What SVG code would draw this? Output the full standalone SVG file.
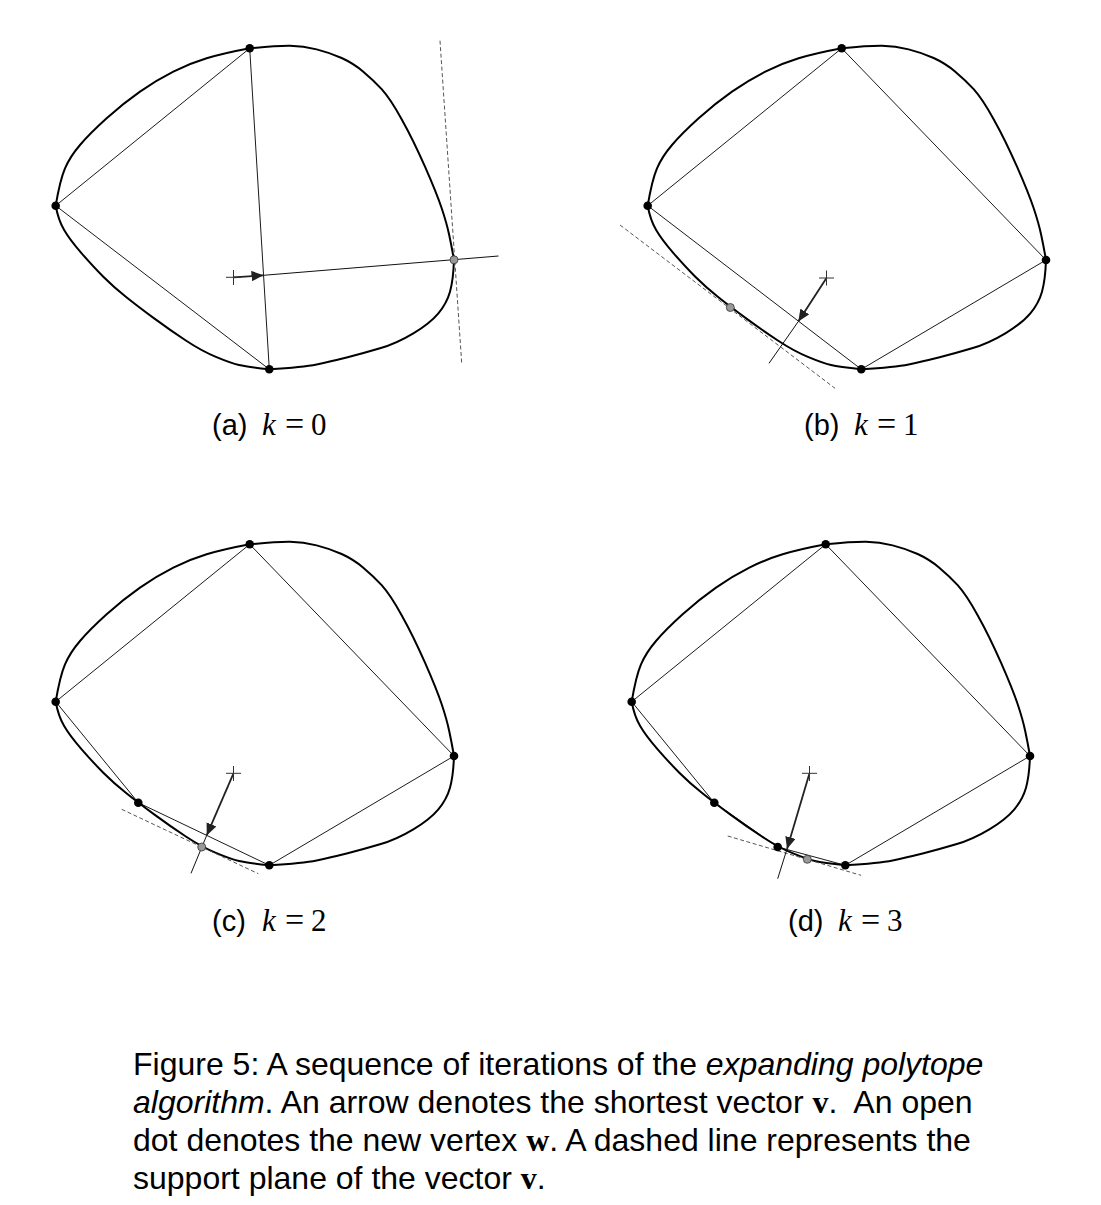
<svg xmlns="http://www.w3.org/2000/svg" width="1101" height="1205" viewBox="0 0 1101 1205">
<style>
.curve{fill:none;stroke:#000;stroke-width:2;stroke-linejoin:round}
.edge{stroke:#000;stroke-width:0.9;fill:none}
.dash{stroke:#555;stroke-width:1;stroke-dasharray:4 2.5;fill:none}
.cross{stroke:#333;stroke-width:1}
.vec{stroke:#222;stroke-width:1.8;fill:none}
.nrm{stroke:#111;stroke-width:1;fill:none}
.dot{fill:#000}
.wdot{fill:#999;stroke:#333;stroke-width:0.8}
.sans{font-family:"Liberation Sans",Arial,sans-serif}
.lab{font-size:29px}
.mi{font-family:"Liberation Serif","Times New Roman",serif;font-style:italic;font-size:31px}
.mr{font-family:"Liberation Serif","Times New Roman",serif;font-size:31px}
.eq{font-family:"Liberation Serif","Times New Roman",serif;font-size:34px}
.cap{font-family:"Liberation Sans",Arial,sans-serif;font-size:32px;fill:#000}
.it{font-style:italic}
.bv{font-family:"Liberation Serif","Times New Roman",serif;font-weight:bold}
</style>
<defs>
<marker id="ah" markerUnits="userSpaceOnUse" markerWidth="13" markerHeight="11" refX="12" refY="5.25" orient="auto">
<path d="M0,0 L12,5.25 L0,10.5 Z" fill="#222"/>
</marker>
<path id="blob" d="M249.7,48.3 Q276.7,45.7 290,45.85 Q303.3,46 316.65,49.35 Q330,52.7 341.65,58 Q353.3,63.3 363.3,71.65 Q373.3,80 381.65,89.15 Q390,98.3 401.65,119.15 Q413.3,140 425,166.65 Q436.7,193.3 441.7,208.3 Q446.7,223.3 449.2,235 Q451.7,246.7 454,260 Q453.3,280 450,291.65 Q446.7,303.3 438.35,313.3 Q430,323.3 413.35,333.3 Q396.7,343.3 380,348.3 Q363.3,353.3 346.65,357.5 Q330,361.7 316.65,364.5 Q303.3,367.3 269.3,369.3 Q246.7,366.7 239,365 Q231.3,363.3 216.5,357.15 Q201.7,351 185.85,340.5 Q170,330 154.15,318.35 Q138.3,306.7 125.8,296.7 Q113.3,286.7 103.3,276.7 Q93.3,266.7 81.65,253.35 Q70,240 64.15,230 Q58.3,220 55.7,205.7 Q60,180 65,168.35 Q70,156.7 80,145 Q90,133.3 106.65,118.3 Q123.3,103.3 140,91.65 Q156.7,80 173.35,71.65 Q190,63.3 206.65,58.3 Q223.3,53.3 249.7,48.3 Z"/>
</defs>
<rect width="1101" height="1205" fill="#fff"/>

<g id="panel-a">
<use href="#blob" class="curve"/>
<g id="a-edges">
<line class="edge" x1="249.7" y1="48.3" x2="55.7" y2="205.7"/>
<line class="edge" x1="55.7" y1="205.7" x2="269.3" y2="369.3"/>
<line class="edge" x1="249.7" y1="48.3" x2="269.3" y2="369.3"/>
</g>
<line class="dash" x1="440" y1="40.7" x2="461.7" y2="363.3"/>
<line class="nrm" x1="263.5" y1="275.3" x2="498.5" y2="256"/>
<line class="vec" x1="233.5" y1="277.3" x2="263.5" y2="275.3" marker-end="url(#ah)"/>
<line class="cross" x1="226" y1="277.3" x2="241" y2="277.3"/>
<line class="cross" x1="233.5" y1="270" x2="233.5" y2="285"/>
<circle class="dot" cx="249.7" cy="48.3" r="4.3"/>
<circle class="dot" cx="55.7" cy="205.7" r="4.3"/>
<circle class="dot" cx="269.3" cy="369.3" r="4.3"/>
<circle class="wdot" cx="454" cy="259.8" r="4"/>
<text y="435"><tspan x="212" class="sans lab">(a)</tspan><tspan x="262" class="mi">k</tspan><tspan x="285" class="eq">=</tspan><tspan x="311" class="mr">0</tspan></text>
</g>

<g id="panel-b">
<use href="#blob" class="curve" transform="translate(592,0)"/>
<g id="b-edges">
<line class="edge" x1="841.7" y1="48.3" x2="647.7" y2="205.7"/>
<line class="edge" x1="647.7" y1="205.7" x2="861.3" y2="369.3"/>
<line class="edge" x1="841.7" y1="48.3" x2="1046" y2="260"/>
<line class="edge" x1="1046" y1="260" x2="861.3" y2="369.3"/>
</g>
<line class="dash" x1="620" y1="225" x2="835" y2="388.3"/>
<line class="nrm" x1="798.3" y1="321.5" x2="769" y2="363.3"/>
<line class="vec" x1="826.5" y1="278" x2="798.3" y2="321.5" marker-end="url(#ah)"/>
<line class="cross" x1="819" y1="278" x2="834" y2="278"/>
<line class="cross" x1="826.5" y1="270.5" x2="826.5" y2="285.5"/>
<circle class="dot" cx="841.7" cy="48.3" r="4.3"/>
<circle class="dot" cx="647.7" cy="205.7" r="4.3"/>
<circle class="dot" cx="1046" cy="260" r="4.3"/>
<circle class="dot" cx="861.3" cy="369.3" r="4.3"/>
<circle class="wdot" cx="730.3" cy="307.5" r="4"/>
<text y="435"><tspan x="804" class="sans lab">(b)</tspan><tspan x="854" class="mi">k</tspan><tspan x="877" class="eq">=</tspan><tspan x="903" class="mr">1</tspan></text>
</g>

<g id="panel-c">
<use href="#blob" class="curve" transform="translate(0,496)"/>
<g id="c-edges">
<line class="edge" x1="249.7" y1="544.3" x2="55.7" y2="701.7"/>
<line class="edge" x1="249.7" y1="544.3" x2="454" y2="756"/>
<line class="edge" x1="454" y1="756" x2="269.3" y2="865.3"/>
<line class="edge" x1="55.7" y1="701.7" x2="138.3" y2="802.7"/>
<line class="edge" x1="138.3" y1="802.7" x2="269.3" y2="865.3"/>
</g>
<line class="dash" x1="121.7" y1="809.3" x2="258.3" y2="873.7"/>
<line class="nrm" x1="206.7" y1="835.4" x2="191" y2="873.3"/>
<line class="vec" x1="233.5" y1="773.3" x2="206.7" y2="835.4" marker-end="url(#ah)"/>
<line class="cross" x1="226" y1="773.3" x2="241" y2="773.3"/>
<line class="cross" x1="233.5" y1="766" x2="233.5" y2="781"/>
<circle class="dot" cx="249.7" cy="544.3" r="4.3"/>
<circle class="dot" cx="55.7" cy="701.7" r="4.3"/>
<circle class="dot" cx="454" cy="756" r="4.3"/>
<circle class="dot" cx="269.3" cy="865.3" r="4.3"/>
<circle class="dot" cx="138.3" cy="802.7" r="4.3"/>
<circle class="wdot" cx="201.7" cy="847" r="4"/>
<text y="931"><tspan x="212" class="sans lab">(c)</tspan><tspan x="262" class="mi">k</tspan><tspan x="285" class="eq">=</tspan><tspan x="311" class="mr">2</tspan></text>
</g>

<g id="panel-d">
<use href="#blob" class="curve" transform="translate(576,496)"/>
<g id="d-edges">
<line class="edge" x1="825.7" y1="544.3" x2="631.7" y2="701.7"/>
<line class="edge" x1="825.7" y1="544.3" x2="1030" y2="756"/>
<line class="edge" x1="1030" y1="756" x2="845.3" y2="865.3"/>
<line class="edge" x1="631.7" y1="701.7" x2="714.3" y2="802.7"/>
<line class="edge" x1="714.3" y1="802.7" x2="777.7" y2="847"/>
<line class="edge" x1="777.7" y1="847" x2="845.3" y2="865.3"/>
</g>
<line class="dash" x1="727.7" y1="836" x2="861" y2="875.3"/>
<line class="nrm" x1="787" y1="849" x2="777.7" y2="878.7"/>
<line class="vec" x1="809.5" y1="773.3" x2="787" y2="849" marker-end="url(#ah)"/>
<line class="cross" x1="802" y1="773.3" x2="817" y2="773.3"/>
<line class="cross" x1="809.5" y1="766" x2="809.5" y2="781"/>
<circle class="dot" cx="825.7" cy="544.3" r="4.3"/>
<circle class="dot" cx="631.7" cy="701.7" r="4.3"/>
<circle class="dot" cx="1030" cy="756" r="4.3"/>
<circle class="dot" cx="845.3" cy="865.3" r="4.3"/>
<circle class="dot" cx="714.3" cy="802.7" r="4.3"/>
<circle class="dot" cx="777.7" cy="847" r="4.3"/>
<circle class="wdot" cx="807.3" cy="859.3" r="4"/>
<text y="931"><tspan x="788" class="sans lab">(d)</tspan><tspan x="838" class="mi">k</tspan><tspan x="861" class="eq">=</tspan><tspan x="887" class="mr">3</tspan></text>
</g>

<g id="caption" class="cap">
<text x="133" y="1075" xml:space="preserve">Figure 5: A sequence of iterations of the <tspan class="it">expanding polytope</tspan></text>
<text x="133" y="1113" xml:space="preserve"><tspan class="it">algorithm</tspan>. An arrow denotes the shortest vector <tspan class="bv">v</tspan>.  An open</text>
<text x="133" y="1151" xml:space="preserve">dot denotes the new vertex <tspan class="bv">w</tspan>. A dashed line represents the</text>
<text x="133" y="1189" xml:space="preserve">support plane of the vector <tspan class="bv">v</tspan>.</text>
</g>
</svg>
